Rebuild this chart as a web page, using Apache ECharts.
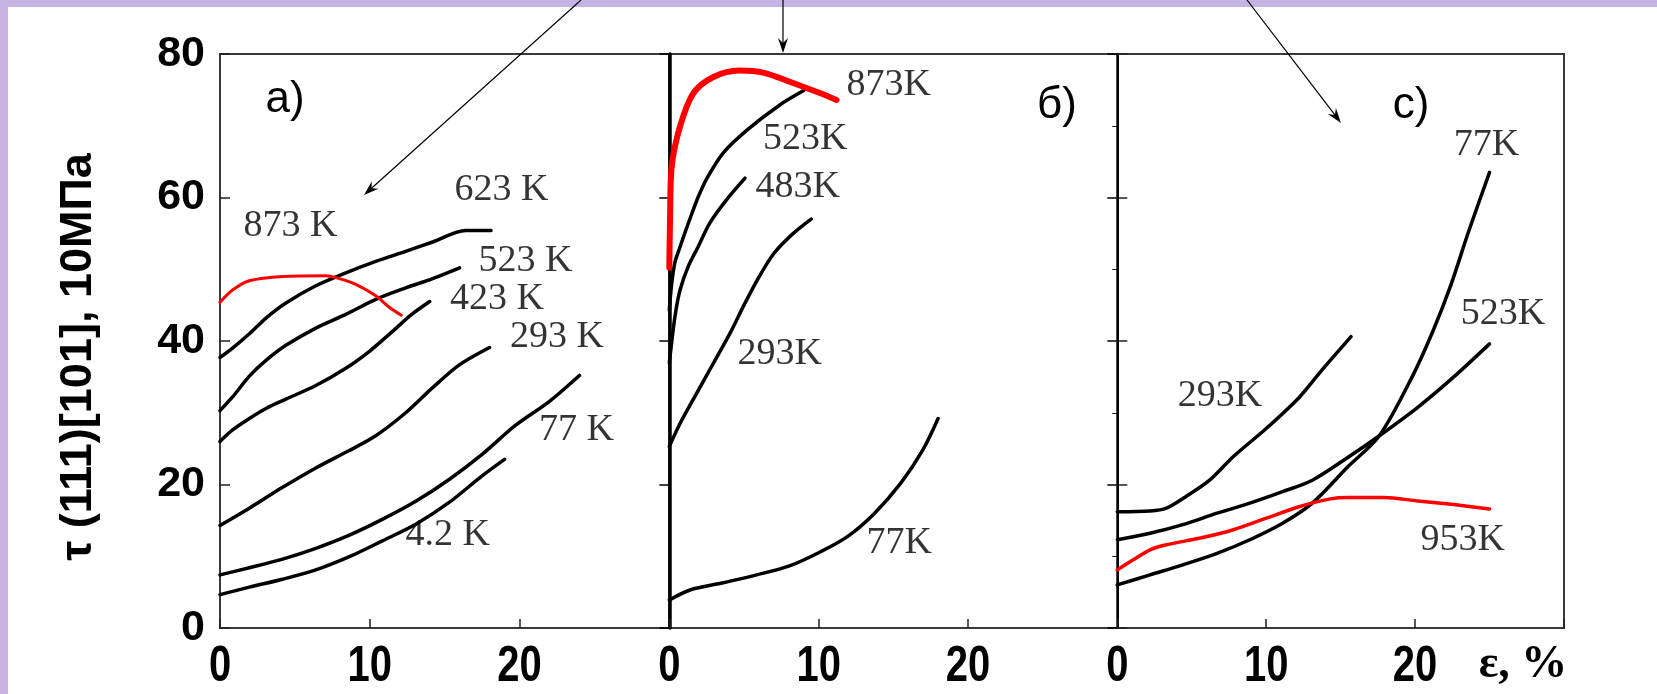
<!DOCTYPE html>
<html>
<head>
<meta charset="utf-8">
<script src="https://cdn.jsdelivr.net/npm/echarts@6/dist/echarts.min.js"></script>
<style>
  html, body { margin: 0; padding: 0; background: #c4b3e3; }
  #chart { width: 1657px; height: 694px; }
</style>
</head>
<body>
<div id="chart"></div>
<script>
// Axis ticks
const strainTicks = [0, 10, 20];
const stressTicks = [0, 20, 40, 60, 80];

// Panel a) — resolved shear stress vs strain, [strain %, stress ×10 MPa]
const a_873 = [[0,45.4],[0.84,47.1],[1.96,48.4],[4.18,49.0],[7.07,49.1],[7.96,48.7],[9.07,47.9],[10.4,46.3],[11.3,44.7],[12.1,43.6]];
const a_623 = [[0,37.7],[0.84,39.0],[1.96,41.0],[3.07,43.2],[4.4,45.3],[6.4,47.7],[8.4,49.5],[10.4,51.1],[12.4,52.5],[14.2,53.8],[16.4,55.4],[18.1,55.4]];
const a_523 = [[0,30.3],[0.84,32.2],[1.96,35.1],[3.07,37.3],[4.4,39.4],[6.4,41.8],[8.4,43.7],[10.4,45.8],[12.4,47.4],[14.2,48.7],[16.0,50.2]];
const a_423 = [[0,26.0],[0.84,27.6],[1.96,29.2],[3.07,30.6],[4.4,31.9],[6.4,33.8],[8.4,36.2],[10.0,38.6],[11.5,41.3],[12.8,43.7],[14.0,45.5]];
const a_293 = [[0,14.3],[1.96,16.7],[4.18,19.6],[6.4,22.3],[8.6,24.7],[10.4,26.8],[12.4,30.0],[14.2,33.5],[16.0,36.7],[18.0,39.1]];
const a_77  = [[0,7.4],[1.96,8.4],[4.18,9.6],[6.4,11.1],[8.6,12.9],[10.8,15.1],[13.1,17.7],[15.3,20.7],[17.5,24.2],[19.7,28.2],[22.0,31.6],[24.0,35.2]];
const a_4_2 = [[0,4.65],[1.96,5.7],[4.18,6.8],[6.4,8.1],[8.6,9.9],[10.8,12.1],[13.1,14.5],[15.3,17.5],[17.5,21.2],[19.0,23.5]];

// Panel б)
const b_873 = [[0,50.2],[0.05,57.0],[0.16,64.3],[0.72,69.9],[1.6,74.5],[2.95,76.8],[4.7,77.7],[6.3,77.4],[8.1,76.1],[9.9,74.7],[11.2,73.6]];
const b_523 = [[0,44.3],[0.16,48.0],[0.38,51.0],[0.7,53.0],[1.1,55.4],[1.5,57.7],[1.94,60.1],[2.5,62.6],[3.6,66.2],[5.2,69.4],[7.4,72.9],[9.0,74.9]];
const b_483 = [[0,36.9],[0.38,43.4],[0.72,47.1],[1.27,50.4],[1.9,53.0],[2.7,56.4],[3.84,59.7],[5.07,62.7]];
const b_293 = [[0,25.3],[0.72,28.5],[1.83,32.7],[2.95,36.9],[4.07,41.1],[5.0,45.0],[6.0,48.9],[7.0,52.2],[8.3,55.0],[9.5,57.0]];
const b_77  = [[0,3.9],[1.39,5.3],[3.6,6.3],[5.85,7.4],[8.1,8.7],[10.1,10.6],[11.9,12.7],[13.7,15.9],[15.5,20.2],[17.0,24.9],[18.0,29.2]];

// Panel c)
const c_77  = [[0,6.0],[2.2,7.4],[4.4,8.8],[6.7,10.4],[8.9,12.3],[11.1,14.6],[13.1,17.4],[15.5,22.5],[17.6,26.8],[19.8,35.0],[21.2,41.4],[22.4,47.8],[23.6,55.3],[25.0,63.5]];
const c_523 = [[0,12.3],[2.2,13.2],[4.4,14.4],[6.7,16.0],[8.9,17.4],[11.1,19.0],[13.1,20.6],[15.5,23.8],[17.6,26.8],[20.2,30.8],[22.6,35.0],[25.0,39.6]];
const c_293 = [[0,16.2],[2.2,16.3],[3.3,16.7],[4.6,18.3],[6.2,20.6],[7.8,23.9],[10.0,27.8],[12.2,32.1],[13.6,35.6],[15.7,40.6]];
const c_953 = [[0,8.1],[1.07,9.5],[2.2,10.9],[3.3,11.6],[5.5,12.5],[7.8,13.7],[10.0,15.3],[12.2,16.9],[14.3,18.0],[15.5,18.2],[17.9,18.2],[20.2,17.7],[22.6,17.2],[25.0,16.6]];

// Curve temperature labels: [strain, stress, text]
const a_labels = [[18.8,61.0,'623 K'],[4.7,56.0,'873 K'],[20.4,51.2,'523 K'],[18.5,45.8,'423 K'],[22.5,40.5,'293 K'],[23.8,27.6,'77 K'],[15.2,12.9,'4.2 K']];
const b_labels = [[14.7,75.7,'873K'],[9.1,68.2,'523K'],[8.6,61.5,'483K'],[7.4,38.2,'293K'],[15.4,11.9,'77K']];
const c_labels = [[24.8,67.3,'77K'],[25.9,43.8,'523K'],[6.9,32.4,'293K'],[23.2,12.3,'953K']];

const panelNames = ['a)', 'б)', 'c)'];
const yTitle = 'τ (111)[101], 10МПа';
const xTitle = 'ε, %';

const chart = echarts.init(document.getElementById('chart'), null, { renderer: 'canvas' });

const FRAME = '#3a3a3a';
const yTickFont = { fontSize: 43, fontWeight: 'bold', fontFamily: 'Liberation Sans', color: '#000' };

const grids = [
  { left: 220, top: 54, width: 449.3, height: 574 },
  { left: 669.3, top: 54, width: 448, height: 574 },
  { left: 1117.3, top: 54, width: 446.7, height: 574 }
].map(g => Object.assign(g, { show: true, borderColor: FRAME, borderWidth: 2, backgroundColor: 'transparent' }));

// Strain tick labels are drawn as condensed text further below
const xAxes = [0, 1, 2].map(i => ({
  gridIndex: i, type: 'value', min: 0, max: 30, interval: 10,
  axisLine: { show: false },
  splitLine: { show: false },
  axisTick: { inside: true, length: 9, lineStyle: { color: '#222', width: 1.5 } },
  axisLabel: { show: false }
}));

const yBase = {
  type: 'value', min: 0, max: 80, interval: 20,
  splitLine: { show: false }
};
const yAxes = [
  Object.assign({}, yBase, {
    gridIndex: 0,
    axisLine: { show: false },
    axisTick: { inside: true, length: 10, lineStyle: { color: '#222', width: 1.5 } },
    axisLabel: Object.assign({
      margin: 15, padding: [0, 0, 6, 0],
      formatter: v => stressTicks.includes(v) ? String(v) : ''
    }, yTickFont)
  }),
  Object.assign({}, yBase, {
    gridIndex: 1,
    axisLine: { show: true, lineStyle: { color: '#000', width: 3.5 } },
    axisTick: { inside: false, length: 10, lineStyle: { color: '#000', width: 1.5 } },
    axisLabel: { show: false }
  }),
  Object.assign({}, yBase, {
    gridIndex: 1,
    axisLine: { show: false },
    axisTick: { inside: true, length: 10, lineStyle: { color: '#000', width: 1.5 } },
    minorTick: { show: true, splitNumber: 2, length: 5, lineStyle: { color: '#000', width: 1 } },
    axisLabel: { show: false }
  }),
  Object.assign({}, yBase, {
    gridIndex: 2,
    axisLine: { show: true, lineStyle: { color: '#000', width: 2 } },
    axisTick: { inside: true, length: 10, lineStyle: { color: '#222', width: 1.5 } },
    axisLabel: { show: false }
  })
];

function curve(data, gi, yi, color, width) {
  return {
    type: 'line', data, xAxisIndex: gi, yAxisIndex: yi,
    showSymbol: false, symbol: 'none', smooth: 0.3, clip: false, silent: true,
    lineStyle: { color, width, cap: 'round', join: 'round' }
  };
}
function labels(data, gi, yi) {
  return {
    type: 'scatter', data, xAxisIndex: gi, yAxisIndex: yi,
    symbolSize: 1, itemStyle: { color: 'transparent' }, silent: true, clip: false,
    label: {
      show: true, position: 'inside', formatter: p => p.data[2],
      fontFamily: 'Liberation Serif', fontSize: 38, color: '#000'
    }
  };
}

const BLACK = '#000', RED = '#ff0000';
const series = [
  curve(a_623, 0, 0, BLACK, 3.5), curve(a_523, 0, 0, BLACK, 3.5), curve(a_423, 0, 0, BLACK, 3.5),
  curve(a_293, 0, 0, BLACK, 3.5), curve(a_77, 0, 0, BLACK, 3.5), curve(a_4_2, 0, 0, BLACK, 3.5),
  curve(a_873, 0, 0, RED, 3),
  curve(b_523, 1, 1, BLACK, 3.5), curve(b_483, 1, 1, BLACK, 3.5), curve(b_293, 1, 1, BLACK, 3.5),
  curve(b_77, 1, 1, BLACK, 3.5),
  curve(b_873, 1, 1, RED, 6),
  curve(c_77, 2, 3, BLACK, 3.5), curve(c_523, 2, 3, BLACK, 3.5), curve(c_293, 2, 3, BLACK, 3.5),
  curve(c_953, 2, 3, RED, 3.5),
  labels(a_labels, 0, 0), labels(b_labels, 1, 1), labels(c_labels, 2, 3)
];

chart.setOption({
  animation: false,
  backgroundColor: '#c4b3e3',
  grid: grids,
  xAxis: xAxes,
  yAxis: yAxes,
  series
});

// Thin pointer arrows with a stealth head at the tip
function arrow(x0, y0, x1, y1) {
  const dx = x1 - x0, dy = y1 - y0, L = Math.hypot(dx, dy);
  const ux = dx / L, uy = dy / L, px = -uy, py = ux;
  const len = 15, half = 5, notch = 5;
  const bx = x1 - ux * len, by = y1 - uy * len;
  return [
    { type: 'line', z: 100, shape: { x1: x0, y1: y0, x2: x1 - ux * 6, y2: y1 - uy * 6 },
      style: { stroke: '#000', lineWidth: 1.2 } },
    { type: 'polygon', z: 100, shape: { points: [
        [x1, y1], [bx + px * half, by + py * half],
        [x1 - ux * (len - notch), y1 - uy * (len - notch)],
        [bx - px * half, by - py * half]] },
      style: { fill: '#000' } }
  ];
}

// Condensed bold strain tick labels placed through each panel's x scale
const xTickTexts = [];
[0, 1, 2].forEach(i => {
  strainTicks.forEach(v => {
    const p = chart.convertToPixel({ gridIndex: i }, [v, 0]);
    xTickTexts.push({
      type: 'text', x: p[0], y: p[1] + 39, scaleX: 0.8, z: 50,
      style: { text: String(v), font: 'bold 50px "Liberation Sans"', fill: '#000', align: 'center', verticalAlign: 'middle' }
    });
  });
});

const graphic = [
  { type: 'rect', z: -10, shape: { x: 8, y: 7, width: 1660, height: 700 }, style: { fill: '#ffffff' } },
  { type: 'text', x: 79, y: 357, rotation: Math.PI / 2,
    style: { text: yTitle, font: 'bold 45px "Liberation Sans"', fill: '#000', align: 'center', verticalAlign: 'middle' } },
  { type: 'text', x: 1523, y: 665,
    style: { text: xTitle, font: 'bold 46px "Liberation Serif"', fill: '#000', align: 'center', verticalAlign: 'middle' } },
  { type: 'text', x: 285, y: 100,
    style: { text: panelNames[0], font: '44px "Liberation Sans"', fill: '#000', align: 'center', verticalAlign: 'middle' } },
  { type: 'text', x: 1057, y: 106,
    style: { text: panelNames[1], font: '44px "Liberation Sans"', fill: '#000', align: 'center', verticalAlign: 'middle' } },
  { type: 'text', x: 1411, y: 106,
    style: { text: panelNames[2], font: '44px "Liberation Sans"', fill: '#000', align: 'center', verticalAlign: 'middle' } }
].concat(xTickTexts, arrow(581, 0, 364, 195), arrow(783, 0, 783, 53), arrow(1247, 0, 1341, 123));

chart.setOption({ graphic });
</script>
</body>
</html>
